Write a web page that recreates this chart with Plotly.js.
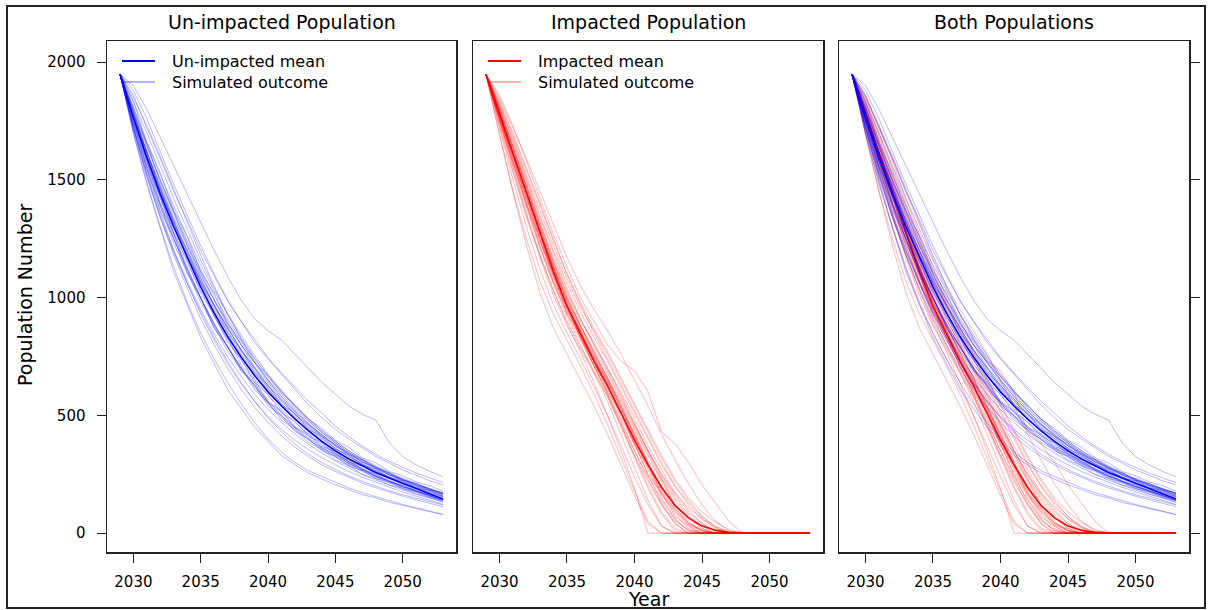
<!DOCTYPE html>
<html><head><meta charset="utf-8">
<script src="https://cdn.plot.ly/plotly-3.0.1.min.js"></script>
<style>html,body{margin:0;padding:0;background:#fff}#chart{width:1208px;height:610px}</style>
</head><body><div id="chart"></div>
<script>
const years = [2029,2030,2031,2032,2033,2034,2035,2036,2037,2038,2039,2040,2041,2042,2043,2044,2045,2046,2047,2048,2049,2050,2051,2052,2053];
const panelTitles = ["Un-impacted Population", "Impacted Population", "Both Populations"];
const xTicks = [2030, 2035, 2040, 2045, 2050];
const yTicks = [0, 500, 1000, 1500, 2000];
const legendUnimpacted = ["Un-impacted mean", "Simulated outcome"];
const legendImpacted = ["Impacted mean", "Simulated outcome"];
const xLabel = "Year";
const yLabel = "Population Number";

const unimpactedMean = [1950,1765,1595,1440,1300,1170,1045,935,835,748,670,600,540,485,435,390,350,315,285,258,234,212,192,167,145];
const impactedMean = [1948,1780,1610,1440,1270,1110,965,845,730,625,510,395,290,195,118,65,30,12,4,1,0,0,0,0,0];

const unimpactedSims = [
 [1950,1900,1800,1680,1560,1440,1320,1200,1090,990,910,860,820,760,700,640,590,540,505,480,385,325,290,262,240],
 [1950,1880,1760,1620,1480,1350,1220,1100,990,900,820,745,680,620,560,510,455,410,370,335,305,280,255,235,215],
 [1950,1835,1660,1530,1370,1260,1110,1020,890,815,725,665,595,545,485,445,395,365,320,298,262,243,218,202,178],
 [1950,1780,1610,1450,1310,1180,1060,950,850,760,680,610,550,495,445,400,360,325,295,265,240,218,198,178,158],
 [1950,1745,1580,1400,1270,1110,1000,870,790,690,640,555,515,448,415,362,336,295,275,240,226,196,185,158,142],
 [1950,1720,1530,1360,1200,1060,930,820,720,635,560,495,440,395,355,320,290,262,238,215,195,175,157,140,122],
 [1950,1700,1490,1300,1130,980,850,740,640,550,470,400,345,300,265,240,215,192,172,155,138,122,108,93,80],
 [1950,1790,1640,1500,1370,1240,1120,1010,910,820,740,665,600,540,485,435,390,350,315,285,258,233,210,190,170],
 [1950,1770,1590,1460,1310,1200,1060,970,850,780,680,630,545,510,440,410,358,332,290,272,236,222,193,181,157],
 [1950,1770,1590,1430,1280,1150,1030,920,820,735,655,585,525,470,420,375,337,303,273,246,222,200,180,160,142],
 [1950,1740,1560,1400,1250,1120,1000,890,790,705,630,560,500,450,405,365,330,298,268,242,218,197,178,158,138],
 [1950,1800,1650,1500,1360,1230,1100,990,890,800,720,645,580,520,465,415,370,330,295,265,238,214,193,173,155],
 [1950,1725,1550,1370,1250,1100,1000,870,795,690,630,540,500,432,400,350,325,285,266,232,217,188,176,152,139],
 [1950,1830,1700,1560,1420,1290,1160,1040,930,830,745,670,600,535,478,428,383,343,308,278,250,226,204,184,166],
 [1950,1760,1580,1420,1270,1130,1000,890,790,700,620,550,490,440,398,360,326,295,267,241,218,197,178,160,143],
 [1950,1790,1620,1460,1320,1190,1070,960,860,770,690,620,560,505,455,410,370,334,302,273,247,224,202,182,164],
 [1950,1750,1560,1430,1270,1160,1020,930,810,740,640,590,510,475,412,385,334,310,270,252,220,205,179,165,144],
 [1950,1810,1660,1520,1390,1260,1140,1030,930,840,755,675,605,542,485,435,390,350,314,282,254,229,206,186,167],
 [1950,1720,1520,1350,1200,1070,950,845,750,665,590,525,470,420,378,340,306,276,249,225,203,183,165,148,132],
 [1950,1760,1620,1450,1330,1170,1060,920,830,715,650,560,520,452,422,368,346,302,285,250,233,205,190,167,153],
 [1950,1850,1730,1600,1460,1320,1180,1050,930,825,730,650,580,520,465,418,375,337,303,273,246,222,200,180,162],
 [1950,1750,1580,1430,1300,1180,1070,970,870,780,695,615,545,485,430,382,340,303,271,243,219,198,179,161,145],
 [1950,1780,1620,1470,1330,1200,1080,970,870,780,700,628,562,503,450,403,361,324,291,262,236,213,192,173,156],
 [1950,1710,1510,1340,1190,1060,940,830,730,640,560,490,430,378,335,300,270,243,220,199,180,163,148,134,120],
 [1950,1700,1480,1290,1110,970,830,720,610,530,450,390,330,290,255,230,205,185,163,150,131,118,104,92,78],
 [1950,1860,1720,1590,1450,1330,1200,1090,985,900,810,740,675,610,545,490,440,400,362,326,298,268,246,222,205],
 [1950,1790,1610,1470,1320,1200,1080,965,875,775,705,625,570,505,462,410,378,335,310,275,255,225,212,186,171],
 [1950,1730,1540,1390,1230,1110,980,880,770,700,610,555,480,440,385,355,310,287,250,232,205,190,167,152,131],
 [1950,1810,1650,1490,1360,1220,1110,990,900,800,725,650,590,528,475,426,384,342,312,280,254,228,209,187,170],
 [1950,1740,1550,1390,1250,1120,995,885,790,700,625,555,497,445,397,357,322,290,262,236,213,192,173,155,138],
 [1950,1770,1620,1480,1340,1220,1090,990,880,800,705,640,570,515,460,418,372,340,302,280,248,230,204,190,168],
 [1950,1720,1520,1340,1180,1040,910,800,700,612,535,470,412,365,325,290,262,236,213,193,174,157,142,128,112]
];

const impactedSims = [
 [1948,1750,1550,1360,1180,1030,890,770,640,500,350,190,0,0,0,0,0,0,0,0,0,0,0,0,0],
 [1948,1770,1580,1400,1220,1060,920,800,680,560,420,280,140,30,0,0,0,0,0,0,0,0,0,0,0],
 [1948,1790,1620,1450,1280,1120,980,860,740,630,510,380,250,130,40,0,0,0,0,0,0,0,0,0,0],
 [1948,1800,1640,1480,1320,1160,1010,880,760,650,540,420,300,190,100,40,10,0,0,0,0,0,0,0,0],
 [1948,1770,1580,1430,1240,1100,930,840,710,630,490,380,250,170,70,30,0,0,0,0,0,0,0,0,0],
 [1948,1810,1660,1500,1340,1190,1040,910,800,700,590,470,350,240,150,80,30,5,0,0,0,0,0,0,0],
 [1948,1780,1600,1430,1260,1100,960,850,740,640,530,410,290,180,90,30,0,0,0,0,0,0,0,0,0],
 [1948,1830,1690,1540,1390,1240,1100,970,850,740,630,520,410,300,200,120,60,20,0,0,0,0,0,0,0],
 [1948,1860,1730,1580,1420,1270,1130,1000,900,800,730,690,600,430,380,300,205,130,50,0,0,0,0,0,0],
 [1948,1720,1500,1300,1120,970,850,740,620,500,370,240,120,30,0,0,0,0,0,0,0,0,0,0,0],
 [1948,1790,1630,1470,1300,1140,990,870,760,660,560,450,340,230,140,70,20,0,0,0,0,0,0,0,0],
 [1948,1760,1600,1400,1250,1070,960,830,740,610,510,370,280,160,95,35,10,0,0,0,0,0,0,0,0],
 [1948,1740,1540,1350,1170,1010,880,780,680,580,460,330,200,90,20,0,0,0,0,0,0,0,0,0,0],
 [1948,1800,1650,1490,1320,1170,1030,910,800,690,580,460,350,250,160,90,40,10,0,0,0,0,0,0,0],
 [1948,1820,1670,1510,1350,1200,1060,940,830,730,620,510,400,290,200,130,70,30,5,0,0,0,0,0,0],
 [1948,1760,1570,1390,1220,1070,930,820,710,600,480,350,230,120,40,0,0,0,0,0,0,0,0,0,0],
 [1948,1790,1600,1450,1270,1130,960,860,730,650,520,430,310,230,120,65,20,0,0,0,0,0,0,0,0],
 [1948,1700,1450,1220,1020,870,760,650,540,420,290,160,40,0,0,0,0,0,0,0,0,0,0,0,0],
 [1948,1790,1620,1460,1290,1130,990,880,780,680,570,460,350,250,170,110,60,25,5,0,0,0,0,0,0],
 [1948,1810,1640,1470,1300,1150,1000,880,770,660,540,410,290,170,80,20,0,0,0,0,0,0,0,0,0],
 [1948,1760,1610,1420,1270,1090,970,830,730,600,510,380,290,170,105,40,15,0,0,0,0,0,0,0,0],
 [1948,1840,1700,1550,1400,1250,1100,980,870,770,660,550,440,330,230,150,90,45,15,0,0,0,0,0,0],
 [1948,1750,1570,1400,1240,1090,950,830,710,590,470,350,240,140,60,10,0,0,0,0,0,0,0,0,0],
 [1948,1790,1620,1450,1290,1130,980,860,750,650,550,440,330,220,120,50,10,0,0,0,0,0,0,0,0],
 [1948,1690,1450,1250,1070,930,820,710,590,460,320,180,50,0,0,0,0,0,0,0,0,0,0,0,0],
 [1948,1850,1720,1590,1450,1310,1170,1050,950,860,760,650,540,420,310,210,120,50,10,0,0,0,0,0,0],
 [1948,1760,1560,1380,1210,1060,940,850,750,640,530,400,270,150,60,10,0,0,0,0,0,0,0,0,0],
 [1948,1800,1640,1470,1310,1150,1020,900,810,700,600,490,370,270,170,100,40,10,0,0,0,0,0,0,0],
 [1948,1730,1530,1340,1180,1030,900,790,690,580,450,320,190,80,10,0,0,0,0,0,0,0,0,0,0],
 [1948,1820,1680,1520,1370,1220,1080,960,860,760,650,540,430,320,220,140,70,25,0,0,0,0,0,0,0],
 [1948,1780,1610,1440,1280,1130,1000,880,770,660,540,420,300,200,110,45,10,0,0,0,0,0,0,0,0],
 [1948,1770,1590,1420,1250,1100,950,830,710,590,460,330,220,120,50,15,0,0,0,0,0,0,0,0,0]
];

const W = 1208, H = 610;
const px = v => v / W;
const py = v => 1 - v / H;
const BLUE = '#0000FF', RED = '#FF0000';
const BLUE_SIM = 'rgba(0,0,255,0.28)', RED_SIM = 'rgba(255,0,0,0.28)';
const FONT = 'DejaVu Sans, Arial, sans-serif';

const panels = [[107, 456], [473, 823], [839, 1189]];
const yDomain = [py(552), py(41)];

const traces = [];
function addSims(sims, color, xa, ya) {
  sims.forEach(s => traces.push({x: years, y: s, type: 'scatter', mode: 'lines', xaxis: xa, yaxis: ya,
    line: {color: color, width: 1}, hoverinfo: 'skip', showlegend: false}));
}
function addMean(m, color, xa, ya) {
  traces.push({x: years, y: m, type: 'scatter', mode: 'lines', xaxis: xa, yaxis: ya,
    line: {color: color, width: 1.6}, hoverinfo: 'skip', showlegend: false});
}
addSims(unimpactedSims, BLUE_SIM, 'x', 'y');
addMean(unimpactedMean, BLUE, 'x', 'y');
addSims(impactedSims, RED_SIM, 'x2', 'y2');
addMean(impactedMean, RED, 'x2', 'y2');
addSims(impactedSims, RED_SIM, 'x3', 'y3');
addMean(impactedMean, RED, 'x3', 'y3');
addSims(unimpactedSims, BLUE_SIM, 'x3', 'y3');
addMean(unimpactedMean, BLUE, 'x3', 'y3');

const AX = '#222';
function xAxis(i) {
  return {domain: [px(panels[i][0]), px(panels[i][1])], range: [2028.04, 2053.96],
    tickvals: xTicks, ticks: 'outside', ticklen: 9, tickwidth: 1, tickcolor: AX,
    showline: true, mirror: true, linecolor: AX, linewidth: 1.5, showgrid: false, zeroline: false,
    anchor: i === 0 ? 'y' : 'y' + (i + 1), ticklabelstandoff: 6,
    tickfont: {family: FONT, size: 15, color: '#000'}, fixedrange: true};
}
function yAxis(i) {
  const a = {domain: yDomain, range: [-80, 2090], tickvals: yTicks, showgrid: false, zeroline: false,
    showline: true, mirror: true, linecolor: AX, linewidth: 1.5, tickcolor: AX, tickwidth: 1,
    anchor: i === 0 ? 'x' : 'x' + (i + 1), tickfont: {family: FONT, size: 15, color: '#000'}, fixedrange: true};
  if (i === 0) { a.ticks = 'outside'; a.ticklen = 9; a.side = 'left'; a.ticklabelstandoff = 8; }
  else if (i === 1) { a.ticks = ''; a.showticklabels = false; }
  else { a.ticks = 'outside'; a.ticklen = 9; a.side = 'right'; a.showticklabels = false; }
  return a;
}

const annotations = [];
const shapes = [];
panelTitles.forEach((t, i) => {
  annotations.push({text: t, xref: 'paper', yref: 'paper', x: px((panels[i][0] + panels[i][1]) / 2), y: py(22),
    xanchor: 'center', yanchor: 'middle', showarrow: false, font: {family: FONT, size: 19, color: '#000'}});
});
annotations.push({text: xLabel, xref: 'paper', yref: 'paper', x: px(648), y: py(599), xanchor: 'center', yanchor: 'middle',
  showarrow: false, font: {family: FONT, size: 19, color: '#000'}});
annotations.push({text: yLabel, xref: 'paper', yref: 'paper', x: px(25), y: py(295), xanchor: 'center', yanchor: 'middle',
  textangle: -90, showarrow: false, font: {family: FONT, size: 19, color: '#000'}});

function addLegend(i, labels, solid, light) {
  const x0 = panels[i][0];
  [[62, solid, 2], [83, light, 2]].forEach((e, k) => {
    shapes.push({type: 'line', xref: 'paper', yref: 'paper', x0: px(x0 + 15), x1: px(x0 + 48), y0: py(e[0] - 1), y1: py(e[0] - 1),
      line: {color: e[1], width: e[2]}});
    annotations.push({text: labels[k], xref: 'paper', yref: 'paper', x: px(x0 + 63), y: py(e[0]), xanchor: 'left', yanchor: 'middle',
      showarrow: false, font: {family: FONT, size: 16, color: '#000'}});
  });
}
addLegend(0, legendUnimpacted, BLUE, 'rgba(0,0,255,0.3)');
addLegend(1, legendImpacted, RED, 'rgba(255,0,0,0.3)');

shapes.push({type: 'rect', xref: 'paper', yref: 'paper', x0: px(7), x1: px(1205), y0: py(608), y1: py(6),
  line: {color: '#222', width: 2}, fillcolor: 'rgba(0,0,0,0)'});

const layout = {
  width: W, height: H, margin: {l: 0, r: 0, t: 0, b: 0}, paper_bgcolor: '#fff', plot_bgcolor: '#fff',
  showlegend: false, font: {family: FONT, size: 15, color: '#000'},
  xaxis: xAxis(0), xaxis2: xAxis(1), xaxis3: xAxis(2),
  yaxis: yAxis(0), yaxis2: yAxis(1), yaxis3: yAxis(2),
  annotations: annotations, shapes: shapes
};
Plotly.newPlot('chart', traces, layout, {displayModeBar: false, staticPlot: true});
</script></body></html>
